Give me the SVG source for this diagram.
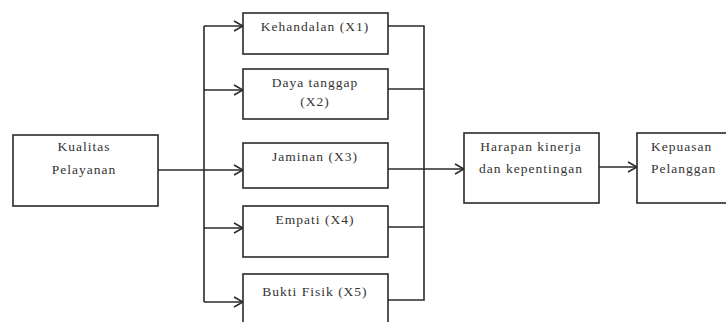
<svg xmlns="http://www.w3.org/2000/svg" width="726" height="322" viewBox="0 0 726 322">
<defs>
<style>
.box{fill:#fff;stroke:#2a2a2a;stroke-width:1.6}
.ln{fill:none;stroke:#2a2a2a;stroke-width:1.6}
.t{font-size:13.5px;letter-spacing:1px;fill:#333}
.c{text-anchor:middle}
</style>
<marker id="ah" markerWidth="12" markerHeight="12" refX="10" refY="6" orient="auto" markerUnits="userSpaceOnUse">
<path d="M1,1 L10,6 L1,11" fill="none" stroke="#2a2a2a" stroke-width="1.5"/>
</marker>
</defs>
<rect width="726" height="322" fill="#fff"/>
<g id="connectors">
<path class="ln" d="M158,170 H204"/>
<path class="ln" d="M204,26 V302"/>
<path class="ln" d="M204,26 H243" marker-end="url(#ah)"/>
<path class="ln" d="M204,90 H243" marker-end="url(#ah)"/>
<path class="ln" d="M204,170 H243" marker-end="url(#ah)"/>
<path class="ln" d="M204,228 H243" marker-end="url(#ah)"/>
<path class="ln" d="M204,302 H243" marker-end="url(#ah)"/>
<path class="ln" d="M388,26 H424 V300 H388"/>
<path class="ln" d="M388,89 H424"/>
<path class="ln" d="M388,227 H424"/>
<path class="ln" d="M388,169 H464" marker-end="url(#ah)"/>
<path class="ln" d="M599,167 H637" marker-end="url(#ah)"/>
</g>
<g font-family="Liberation Serif, DejaVu Serif, serif">
<g id="kualitas">
<rect class="box" x="13" y="135" width="145" height="71"/>
<text class="t c" x="84" y="151">Kualitas</text>
<text class="t c" x="84" y="174">Pelayanan</text>
</g>
<g id="x1">
<rect class="box" x="243" y="13" width="145" height="41"/>
<text class="t c" x="315" y="31">Kehandalan (X1)</text>
</g>
<g id="x2">
<rect class="box" x="243" y="69" width="145" height="50"/>
<text class="t c" x="315" y="87">Daya tanggap</text>
<text class="t c" x="315" y="106">(X2)</text>
</g>
<g id="x3">
<rect class="box" x="243" y="143" width="145" height="45"/>
<text class="t c" x="315" y="161">Jaminan (X3)</text>
</g>
<g id="x4">
<rect class="box" x="243" y="206" width="145" height="51"/>
<text class="t c" x="315" y="224">Empati (X4)</text>
</g>
<g id="x5">
<rect class="box" x="243" y="274" width="145" height="60"/>
<text class="t c" x="315" y="296">Bukti Fisik (X5)</text>
</g>
<g id="harapan">
<rect class="box" x="464" y="133" width="135" height="70"/>
<text class="t c" x="531" y="151">Harapan kinerja</text>
<text class="t c" x="531" y="173">dan kepentingan</text>
</g>
<g id="kepuasan">
<rect class="box" x="637" y="133" width="100" height="70"/>
<text class="t" x="651" y="151">Kepuasan</text>
<text class="t" x="651" y="173">Pelanggan</text>
</g>
</g>
</svg>
